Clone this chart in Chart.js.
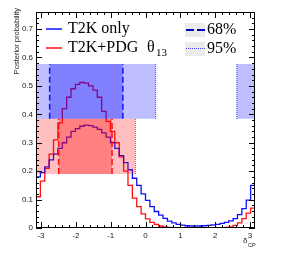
<!DOCTYPE html>
<html><head><meta charset="utf-8">
<script src="https://cdn.jsdelivr.net/npm/chart.js@4/dist/chart.umd.min.js"></script>
<style>html,body{margin:0;padding:0;background:#fff;}#wrap{width:284px;height:256px;position:relative;}</style>
</head><body><div id="wrap"><canvas id="c" width="284" height="256"></canvas></div>
<script>
// ---- data (posterior probability per delta_CP bin, 50 bins over [-pi, pi]) ----
const T2K_ONLY = [0.18,0.195,0.215,0.24,0.26,0.28,0.30,0.32,0.34,0.35,
  0.358,0.362,0.36,0.355,0.347,0.335,0.32,0.30,0.28,0.255,
  0.23,0.205,0.175,0.15,0.12,0.097,0.075,0.058,0.045,0.034,
  0.024,0.018,0.013,0.010,0.008,0.007,0.007,0.007,0.008,0.009,
  0.011,0.013,0.016,0.020,0.025,0.033,0.047,0.068,0.098,0.15];
const T2K_PDG = [0.11,0.165,0.21,0.26,0.31,0.37,0.42,0.46,0.49,0.505,
  0.512,0.51,0.50,0.485,0.46,0.41,0.375,0.34,0.30,0.25,
  0.20,0.15,0.105,0.075,0.05,0.032,0.02,0.013,0.007,0.004,
  0.002,0.001,0.0005,0.0005,0.0005,0.0005,0.0005,0.0005,0.0005,0.0005,
  0.0005,0.0005,0.001,0.002,0.004,0.009,0.018,0.033,0.052,0.07];
const X_TICKS = [-3,-2,-1,0,1,2,3];
const Y_TICKS = [0,0.1,0.2,0.3,0.4,0.5,0.6,0.7];
// credible intervals in delta_CP
const T2K_68 = [[-2.75,-0.65]];
const T2K_95 = [[-Math.PI,0.29],[2.62,Math.PI]];
const PDG_68 = [[-2.49,-0.96]];
const PDG_95 = [[-Math.PI,-0.29]];
const SERIES = ['T2K only','T2K+PDG'];
const LEVELS = ['68%','95%'];

// ---- layout / style constants ----
const BLUE_ROW = [0.384,0.577];
const RED_ROW = [0.19,0.384];
const NB = T2K_ONLY.length;
const edges = Array.from({length: NB+1}, (_, i) => -Math.PI + i*2*Math.PI/NB);
const histPts = vals => edges.map((e,i) => ({x:e, y: vals[Math.min(i, NB-1)]}));

const datasets = [];
function band(iv, row, color, order){
  iv.forEach(([a,b]) => datasets.push({data:[{x:a,y:row[1]},{x:b,y:row[1]}], borderWidth:0, pointRadius:0,
    backgroundColor:color, fill:{value:row[0]}, order:order}));
}
function edgeLines(iv, row, color, dash, lw, skipPi){
  iv.forEach(([a,b]) => [a,b].forEach(v => {
    if (skipPi && Math.abs(Math.abs(v)-Math.PI)<1e-6) return;
    datasets.push({data:[{x:v,y:row[0]},{x:v,y:row[1]}], borderColor:color, borderWidth:lw, borderDash:dash,
      pointRadius:0, fill:false, order:0});
  }));
}
datasets.push({label:SERIES[0], data:histPts(T2K_ONLY), borderColor:'#1010ff', borderWidth:1.3, pointRadius:0, stepped:true, fill:false, order:4});
datasets.push({label:SERIES[1], data:histPts(T2K_PDG), borderColor:'#ff1010', borderWidth:1.3, pointRadius:0, stepped:true, fill:false, order:5});
band(T2K_95, BLUE_ROW, 'rgba(0,0,255,0.25)', 3);
band(PDG_95, RED_ROW, 'rgba(255,0,0,0.25)', 3);
band(T2K_68, BLUE_ROW, 'rgba(0,0,255,0.33)', 2);
band(PDG_68, RED_ROW, 'rgba(255,0,0,0.33)', 2);
edgeLines(T2K_68, BLUE_ROW, '#1010ff', [6,3], 1.5, true);
edgeLines(PDG_68, RED_ROW, '#ff1010', [6,3], 1.5, true);
edgeLines(T2K_95, BLUE_ROW, '#3030ff', [1,1], 1, true);
edgeLines(PDG_95, RED_ROW, '#ff3030', [1,1], 1, true);

const decor = {
  id:'decor',
  afterDatasetsDraw(chart){
    const {ctx, chartArea:a, scales:{x,y}} = chart;
    ctx.save();
    ctx.strokeStyle='#000'; ctx.lineWidth=1;
    ctx.strokeRect(a.left+0.5, a.top+0.5, a.right-a.left-1, a.bottom-a.top-1);
    ctx.beginPath();
    for (let k=-15; k<=15; k++){
      const v=k*0.2; const major = k%5===0; const L = major?6:3;
      const px = Math.round(x.getPixelForValue(v))+0.5;
      ctx.moveTo(px,a.bottom); ctx.lineTo(px,a.bottom-L);
      ctx.moveTo(px,a.top); ctx.lineTo(px,a.top+L);
    }
    for (let k=0; k<=38; k++){
      const v=k*0.02; const major = k%5===0; const L = major?6:3;
      const py = Math.round(y.getPixelForValue(v))+0.5;
      ctx.moveTo(a.left,py); ctx.lineTo(a.left+L,py);
      ctx.moveTo(a.right,py); ctx.lineTo(a.right-L,py);
    }
    ctx.stroke();
    ctx.restore();
  },
  afterDraw(chart){
    const ctx = chart.ctx;
    ctx.save();
    // y title
    ctx.fillStyle='#222';
    ctx.font='7.5px "Liberation Sans", Arial, sans-serif';
    ctx.translate(17,8); ctx.rotate(-Math.PI/2);
    ctx.textAlign='right'; ctx.textBaseline='middle';
    ctx.fillText('Posterior probability',0,0);
    ctx.restore();
    ctx.save();
    // x title
    ctx.fillStyle='#222';
    ctx.font='8px "Liberation Sans", Arial, sans-serif';
    ctx.textBaseline='alphabetic'; ctx.textAlign='left';
    ctx.fillText('δ',243,243);
    ctx.font='5.5px "Liberation Sans", Arial, sans-serif';
    ctx.fillText('CP',248,246.5);
    // legend
    ctx.lineWidth=1.5;
    ctx.strokeStyle='#1010ff'; ctx.beginPath(); ctx.moveTo(46,29); ctx.lineTo(62,29); ctx.stroke();
    ctx.strokeStyle='#ff1010'; ctx.beginPath(); ctx.moveTo(46,48); ctx.lineTo(62,48); ctx.stroke();
    ctx.fillStyle='#000';
    ctx.font='16px "Liberation Serif", "Times New Roman", serif';
    ctx.textBaseline='middle';
    ctx.fillText(SERIES[0],68,29);
    ctx.fillText(SERIES[1],68,48);
    ctx.fillText('θ',147,48);
    ctx.font='11px "Liberation Serif", "Times New Roman", serif';
    ctx.fillText('13',156,53);
    ctx.fillStyle='#ebebeb';
    ctx.fillRect(185,23,20,14);
    ctx.fillRect(185,42,20,14);
    ctx.strokeStyle='#0000c8'; ctx.lineWidth=2; ctx.setLineDash([8,3]);
    ctx.beginPath(); ctx.moveTo(186,30); ctx.lineTo(205,30); ctx.stroke();
    ctx.strokeStyle='#4040ff'; ctx.lineWidth=1; ctx.setLineDash([1,1]);
    ctx.beginPath(); ctx.moveTo(186,48.5); ctx.lineTo(205,48.5); ctx.stroke();
    ctx.setLineDash([]);
    ctx.fillStyle='#000';
    ctx.font='16px "Liberation Serif", "Times New Roman", serif';
    ctx.fillText(LEVELS[0],207,30);
    ctx.fillText(LEVELS[1],207,49);
    ctx.restore();
  }
};

new Chart(document.getElementById('c'), {
  type:'line',
  data:{datasets},
  options:{
    responsive:false, animation:false, devicePixelRatio:1,
    layout:{padding:{left:0,right:29,top:12,bottom:0}},
    plugins:{legend:{display:false}, tooltip:{enabled:false}},
    scales:{
      x:{type:'linear', min:-Math.PI, max:Math.PI,
        afterFit(s){ s.height=28; },
        afterBuildTicks(s){ s.ticks = X_TICKS.map(v=>({value:v})); },
        grid:{display:false, drawTicks:false}, border:{display:false},
        ticks:{padding:3, color:'#222', font:{family:'"Liberation Sans", Arial, sans-serif', size:8},
          callback:v=>String(v), maxRotation:0, autoSkip:false}},
      y:{type:'linear', min:0, max:0.76,
        afterFit(s){ s.width=36; },
        afterBuildTicks(s){ s.ticks = Y_TICKS.map(v=>({value:v})); },
        grid:{display:false, drawTicks:false}, border:{display:false},
        ticks:{padding:3, color:'#222', font:{family:'"Liberation Sans", Arial, sans-serif', size:8},
          callback:v=>String(Math.round(v*10)/10), autoSkip:false}}
    }
  },
  plugins:[decor]
});
</script></body></html>
